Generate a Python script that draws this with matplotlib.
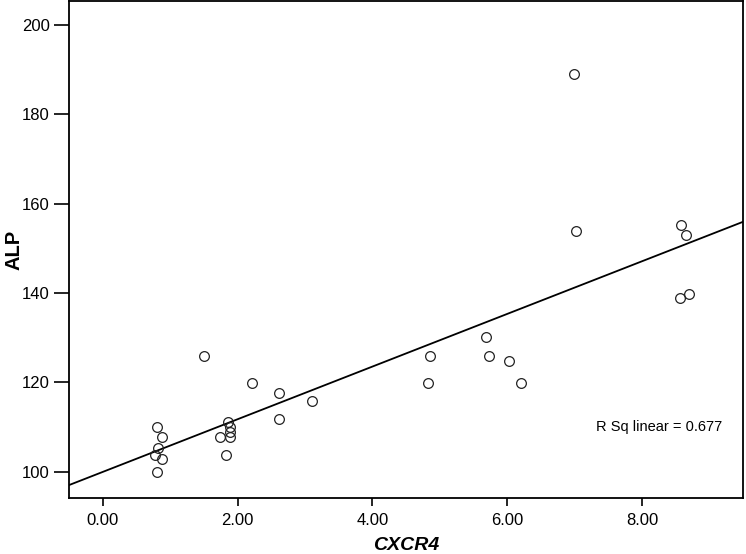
import numpy as np
import matplotlib.pyplot as plt

plt.rcParams['font.family'] = ['Liberation Sans', 'DejaVu Sans']

# valores
cxcr4 = [0.80, 0.87, 0.82, 0.77, 0.87, 0.80,
         1.50, 2.21, 2.61, 2.61, 1.86, 1.89, 1.89, 1.89, 1.74, 1.82,
         3.10, 5.68, 4.85, 5.73, 6.02, 4.82, 6.21,
         6.99, 7.02, 8.58, 8.66, 8.57, 8.70]
alp = [110.1, 107.7, 105.2, 103.7, 102.8, 99.9,
       125.9, 119.8, 117.7, 111.9, 111.2, 109.9, 108.9, 107.8, 107.8, 103.7,
       115.9, 130.1, 125.9, 125.9, 124.8, 119.9, 119.9,
       189.1, 153.9, 155.2, 152.9, 138.8, 139.8]
x_ticks = [0, 2, 4, 6, 8]
y_ticks = [100, 120, 140, 160, 180, 200]
r2_text = 'R Sq linear = 0.677'

x = np.array(cxcr4)
y = np.array(alp)
slope, intercept = np.polyfit(x, y, 1)

fig = plt.figure(figsize=(7.46, 5.54), dpi=100)
ax = fig.add_axes([0.0929, 0.101, 0.903, 0.897])

xs = np.array([-0.5, 9.5])
ax.plot(xs, slope * xs + intercept, color='black', linewidth=1.3)
ax.plot(x, y, 'o', markerfacecolor='none', markeredgecolor='#222222',
        markersize=7, markeredgewidth=0.9)

ax.set_xlim(-0.5, 9.5)
ax.set_ylim(94.1, 205.3)
ax.set_xticks(x_ticks)
ax.set_xticklabels([f'{v:.2f}' for v in x_ticks])
ax.set_yticks(y_ticks)
ax.tick_params(axis='x', length=6, width=1.2, labelsize=12, pad=5)
ax.tick_params(axis='y', length=11, width=1.2, labelsize=12, pad=3)
for s in ax.spines.values():
    s.set_linewidth(1.3)

ax.set_xlabel('CXCR4', fontsize=14, fontweight='bold', style='italic', labelpad=6)
ax.set_ylabel('ALP', fontsize=14.5, fontweight='bold')
ax.yaxis.set_label_coords(-0.068, 0.5)

ax.text(0.875, 0.142, r2_text, transform=ax.transAxes, fontsize=10.5,
        ha='center', va='center')

fig.savefig('out.png', dpi=100)
